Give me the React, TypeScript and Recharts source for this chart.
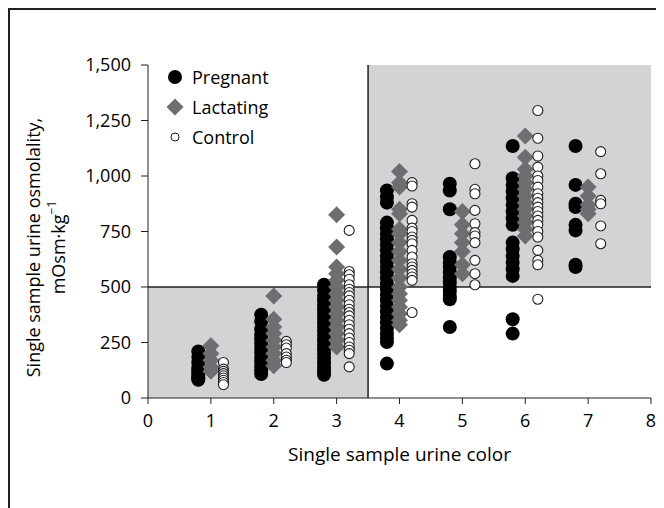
import React from 'react';
import {
  ScatterChart,
  Scatter,
  XAxis,
  YAxis,
  ReferenceArea,
  ReferenceLine,
  Legend,
} from 'recharts';

// urine color categories (x axis)
const urineColors = [1, 2, 3, 4, 5, 6, 7];

// osmolality values (mOsm/kg) for each urine color, per group
const pregnant: number[][] = [
  [210, 185, 160, 140, 125, 115, 105, 95, 88, 82],
  [375, 345, 310, 285, 265, 245, 225, 205, 185, 165, 145, 125, 108],
  [510, 485, 460, 440, 420, 400, 380, 360, 340, 320, 300, 280, 260, 240, 220, 200, 180, 160, 140, 120, 105],
  [935, 905, 880, 790, 765, 740, 715, 690, 665, 640, 615, 590, 565, 540, 515, 490, 465, 440, 415, 390, 365, 340, 315, 290, 270, 252, 155],
  [965, 935, 850, 635, 610, 590, 565, 540, 520, 500, 480, 460, 445, 320],
  [1135, 990, 960, 930, 900, 870, 840, 810, 780, 700, 670, 640, 610, 580, 550, 355, 290],
  [1135, 960, 875, 860, 780, 755, 600, 590],
];

const lactating: number[][] = [
  [235, 200, 170, 140, 120],
  [460, 355, 320, 290, 260, 230, 200, 170, 145],
  [825, 680, 590, 560, 530, 500, 470, 440, 410, 380, 350, 320, 290, 260, 230],
  [1020, 970, 950, 850, 830, 760, 740, 700, 660, 620, 580, 540, 500, 470, 440, 410, 380, 350, 330],
  [840, 780, 740, 700, 660, 600, 560],
  [1180, 1085, 1030, 1000, 970, 940, 910, 880, 850, 820, 790, 760, 730],
  [950, 910, 870, 850, 830],
];

const control: number[][] = [
  [160, 130, 120, 110, 100, 90, 80, 70, 60],
  [255, 240, 225, 200, 185, 170, 160],
  [755, 570, 555, 535, 510, 490, 475, 460, 440, 420, 400, 385, 370, 350, 330, 310, 290, 270, 250, 230, 215, 200, 140],
  [970, 955, 875, 860, 800, 765, 750, 725, 710, 695, 665, 635, 605, 590, 575, 560, 545, 530, 385],
  [1055, 940, 920, 845, 785, 745, 730, 700, 620, 560, 510],
  [1295, 1170, 1090, 1040, 1000, 980, 950, 920, 900, 880, 860, 840, 820, 800, 780, 750, 725, 665, 620, 600, 445],
  [1110, 1010, 890, 875, 775, 695],
];

const xTicks = [0, 1, 2, 3, 4, 5, 6, 7, 8];
const yTicks = [0, 250, 500, 750, 1000, 1250, 1500];

const INK = '#231f20';
const GREY = '#6d6e71';
const SHADE = '#d1d3d4';
const FONT = '"Open Sans", "Noto Sans", sans-serif';

const toPoints = (groups: number[][], offset: number) =>
  groups.flatMap((vals, i) => vals.map((y) => ({ x: urineColors[i] + offset, y })));

const pregnantPts = toPoints(pregnant, -0.2);
const lactatingPts = toPoints(lactating, 0);
const controlPts = toPoints(control, 0.2);

const Dot = (p: any) => <circle cx={p.cx} cy={p.cy} r={7} fill="#000" />;
const Diamond = (p: any) => (
  <path
    d={`M${p.cx},${p.cy - 8.5}L${p.cx + 8.5},${p.cy}L${p.cx},${p.cy + 8.5}L${p.cx - 8.5},${p.cy}Z`}
    fill={GREY}
  />
);
const Ring = (p: any) => <circle cx={p.cx} cy={p.cy} r={5} fill="#fff" stroke={INK} strokeWidth={1.1} />;

const legendItems = [
  { name: 'Pregnant', icon: <circle cx={9} cy={9} r={7} fill="#000" /> },
  { name: 'Lactating', icon: <path d="M9,0.5L17.5,9L9,17.5L0.5,9Z" fill={GREY} /> },
  { name: 'Control', icon: <circle cx={9} cy={9} r={4} fill="#fff" stroke={INK} strokeWidth={1} /> },
];

const renderLegend = () => (
  <div style={{ fontFamily: FONT, fontSize: 18, color: '#000' }}>
    {legendItems.map((it) => (
      <div key={it.name} style={{ display: 'flex', alignItems: 'center', height: 30 }}>
        <svg width={18} height={18}>{it.icon}</svg>
        <span style={{ marginLeft: 8 }}>{it.name}</span>
      </div>
    ))}
  </div>
);

const YLabel = (props: any) => {
  const vb = props.viewBox || { x: 0, y: 57, width: 140, height: 333 };
  const cy = vb.y + vb.height / 2 + 16;
  return (
    <g fontFamily={FONT} fontSize={18} fill="#000">
      <text x={25} y={cy} transform={`rotate(-90, 25, ${cy})`} textAnchor="middle" dominantBaseline="central">
        Single sample urine osmolality,
      </text>
      <text x={50} y={cy} transform={`rotate(-90, 50, ${cy})`} textAnchor="middle" dominantBaseline="central">
        mOsm·kg<tspan dy={-7} fontSize={12}>−1</tspan>
      </text>
    </g>
  );
};

export default function App() {
  return (
    <div style={{ position: 'relative', width: 656, height: 500, fontFamily: FONT }}>
      <ScatterChart width={656} height={500} margin={{ top: 57, right: 13, bottom: 50, left: 0 }}>
        <ReferenceArea x1={0} x2={3.5} y1={0} y2={500} fill={SHADE} fillOpacity={1} stroke="none" />
        <ReferenceArea x1={3.5} x2={8} y1={500} y2={1500} fill={SHADE} fillOpacity={1} stroke="none" />
        <ReferenceLine x={3.5} stroke={INK} strokeWidth={1.5} />
        <ReferenceLine y={500} stroke={INK} strokeWidth={1.5} />
        <XAxis
          type="number"
          dataKey="x"
          domain={[0, 8]}
          ticks={xTicks}
          interval={0}
          height={60}
          stroke={INK}
          tickSize={6}
          tickMargin={10}
          tick={{ fill: '#000', fontSize: 18, fontFamily: FONT }}
          label={{ value: 'Single sample urine color', position: 'insideBottom', offset: 0, fill: '#000', fontSize: 19, fontFamily: FONT, dy: 3 }}
        />
        <YAxis
          type="number"
          dataKey="y"
          domain={[0, 1500]}
          ticks={yTicks}
          interval={0}
          width={140}
          stroke={INK}
          tickSize={7}
          tickMargin={10}
          tickFormatter={(v: number) => v.toLocaleString('en-US')}
          tick={{ fill: '#000', fontSize: 18, fontFamily: FONT }}
          label={<YLabel />}
        />
        <Legend
          layout="vertical"
          align="center"
          verticalAlign="middle"
          content={renderLegend}
          wrapperStyle={{ left: 158, top: 54, width: 130 }}
        />
        <Scatter name="Pregnant" data={pregnantPts} shape={Dot} isAnimationActive={false} />
        <Scatter name="Lactating" data={lactatingPts} shape={Diamond} isAnimationActive={false} />
        <Scatter name="Control" data={controlPts} shape={Ring} isAnimationActive={false} />
      </ScatterChart>
      <div
        style={{
          position: 'absolute',
          left: 0,
          top: 0,
          width: 654,
          height: 498,
          borderTop: `2px solid ${INK}`,
          borderLeft: `2px solid ${INK}`,
          pointerEvents: 'none',
        }}
      />
    </div>
  );
}
